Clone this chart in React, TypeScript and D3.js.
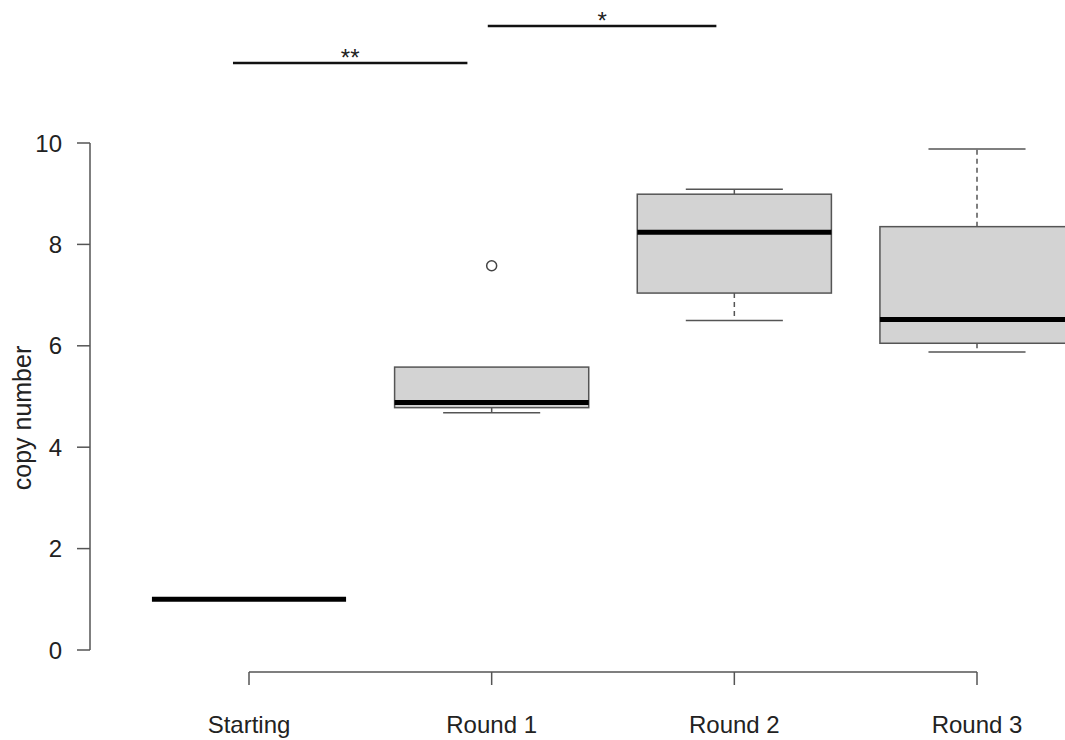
import React from "react";
import * as d3 from "d3";

const categories = ["Starting", "Round 1", "Round 2", "Round 3"];
// [lowerWhisker, q1, median, q3, upperWhisker]
const boxStats: number[][] = [
  [1, 1, 1, 1, 1],
  [4.68, 4.78, 4.88, 5.58, 5.58],
  [6.5, 7.04, 8.24, 8.99, 9.09],
  [5.88, 6.05, 6.52, 8.35, 9.88],
];
const outliers: { cat: number; value: number }[] = [{ cat: 1, value: 7.58 }];
const yTicks = [0, 2, 4, 6, 8, 10];
const yLabel = "copy number";
// significance brackets in data units: x from/to (category index), y value, label
const sigBars = [
  { x1: -0.066, x2: 0.9, y: 11.58, label: "**" },
  { x1: 0.984, x2: 1.926, y: 12.31, label: "*" },
];

export default function App() {
  const W = 1065, H = 740;
  const x = d3.scaleLinear().domain([0, 3]).range([249, 977]);
  const y = d3.scaleLinear().domain([0, 10]).range([650, 143]);
  const step = x(1) - x(0);
  const bw = step * 0.8;
  const sw = bw * 0.5;
  const font = "Liberation Sans, Arial, sans-serif";
  const gray = "#555";
  return (
    <svg width={W} height={H} style={{ position: "absolute", left: 0, top: 0, background: "#fff" }}>
      <defs>
        <clipPath id="clip">
          <rect x={0} y={0} width={W} height={H} />
        </clipPath>
      </defs>
      {/* y axis */}
      <line x1={90} x2={90} y1={y(0)} y2={y(10)} stroke={gray} strokeWidth={1.5} />
      {yTicks.map((t) => (
        <g key={t}>
          <line x1={77} x2={90} y1={y(t)} y2={y(t)} stroke={gray} strokeWidth={1.5} />
          <text x={62} y={y(t)} textAnchor="end" dominantBaseline="central" fontFamily={font} fontSize={24} fill="#222">
            {t}
          </text>
        </g>
      ))}
      <text
        transform={`translate(22, 418) rotate(-90)`}
        textAnchor="middle"
        dominantBaseline="central"
        fontFamily={font}
        fontSize={25}
        fill="#222"
      >
        {yLabel}
      </text>
      {/* x axis */}
      <line x1={x(0)} x2={x(3)} y1={672} y2={672} stroke={gray} strokeWidth={1.5} />
      {categories.map((c, i) => (
        <g key={c}>
          <line x1={x(i)} x2={x(i)} y1={672} y2={685} stroke={gray} strokeWidth={1.5} />
          <text x={x(i)} y={733} textAnchor="middle" fontFamily={font} fontSize={24} fill="#222">
            {c}
          </text>
        </g>
      ))}
      {/* boxes */}
      <g clipPath="url(#clip)">
        {boxStats.map((s, i) => {
          const cx = x(i);
          const [lw, q1, med, q3, uw] = s;
          return (
            <g key={i}>
              {uw > q3 && (
                <>
                  <line x1={cx} x2={cx} y1={y(q3)} y2={y(uw)} stroke={gray} strokeWidth={1.5} strokeDasharray="5,4" />
                  <line x1={cx - sw / 2} x2={cx + sw / 2} y1={y(uw)} y2={y(uw)} stroke={gray} strokeWidth={1.5} />
                </>
              )}
              {lw < q1 && (
                <>
                  <line x1={cx} x2={cx} y1={y(q1)} y2={y(lw)} stroke={gray} strokeWidth={1.5} strokeDasharray="5,4" />
                  <line x1={cx - sw / 2} x2={cx + sw / 2} y1={y(lw)} y2={y(lw)} stroke={gray} strokeWidth={1.5} />
                </>
              )}
              {q3 > q1 && (
                <rect
                  x={cx - bw / 2}
                  y={y(q3)}
                  width={bw}
                  height={y(q1) - y(q3)}
                  fill="#d3d3d3"
                  stroke={gray}
                  strokeWidth={1.5}
                />
              )}
              <line x1={cx - bw / 2} x2={cx + bw / 2} y1={y(med)} y2={y(med)} stroke="#000" strokeWidth={5} />
            </g>
          );
        })}
        {outliers.map((o, i) => (
          <circle key={i} cx={x(o.cat)} cy={y(o.value)} r={5} fill="none" stroke="#444" strokeWidth={1.5} />
        ))}
      </g>
      {/* significance bars */}
      {sigBars.map((b, i) => (
        <g key={i}>
          <line x1={x(b.x1)} x2={x(b.x2)} y1={y(b.y)} y2={y(b.y)} stroke="#111" strokeWidth={2.5} />
          <text
            x={(x(b.x1) + x(b.x2)) / 2}
            y={y(b.y) + 3}
            textAnchor="middle"
            fontFamily={font}
            fontSize={24}
            fill="#222"
          >
            {b.label}
          </text>
        </g>
      ))}
    </svg>
  );
}
